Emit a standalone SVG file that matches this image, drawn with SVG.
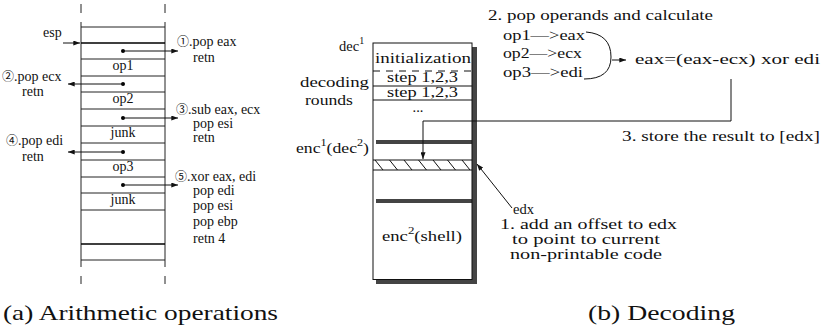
<svg xmlns="http://www.w3.org/2000/svg" width="832" height="327" viewBox="0 0 832 327" font-family="Liberation Serif, DejaVu Serif, serif">
<defs>
<style>
text{fill:#111}
.t{font-size:14px}
.p{font-size:14.5px}
.cap{font-size:21px}
.sl{stroke:#222;stroke-width:1;fill:none}
.ln{stroke:#111;stroke-width:1;fill:none}
.sh{fill:#444}
</style>
<marker id="ah" viewBox="0 0 8 6" refX="8" refY="3" markerWidth="7" markerHeight="5" markerUnits="userSpaceOnUse" orient="auto">
<path d="M0,0 L8,3 L0,6 Z" fill="#111"/>
</marker>
</defs>
<rect width="832" height="327" fill="#fff"/>

<g id="stack">
<path class="sl" d="M81,4V13M165,4V13M81,276V284M165,276V284M81,22V267M165,22V267"/>
<path class="sl" d="M81,27H165M81,59H165M81,76H165M81,92H165M81,109H165M81,126H165M81,143H165M81,160H165M81,177H165M81,193H165M81,210H165M81,260H165"/>
<path d="M81,43H165M81,244H165" stroke="#000" stroke-width="1.5"/>
<text class="t" x="123" y="70" text-anchor="middle">op1</text>
<text class="t" x="123" y="103" text-anchor="middle">op2</text>
<text class="t" x="123" y="137" text-anchor="middle">junk</text>
<text class="t" x="123" y="171" text-anchor="middle">op3</text>
<text class="t" x="123" y="204" text-anchor="middle">junk</text>
<g fill="#000"><circle cx="123" cy="51" r="2"/><circle cx="123" cy="84" r="2"/><circle cx="123" cy="118" r="2"/><circle cx="123" cy="152" r="2"/><circle cx="123" cy="185" r="2"/></g>
</g>
<g id="stack-labels">
<text class="t" x="43" y="37">esp</text>
<text class="t" x="177" y="46"><tspan font-family="Noto Sans CJK SC" font-size="12">①</tspan>.pop eax</text>
<text class="t" x="193" y="62">retn</text>
<text class="t" x="2" y="81"><tspan font-family="Noto Sans CJK SC" font-size="12">②</tspan>.pop ecx</text>
<text class="t" x="22" y="96">retn</text>
<text class="t" x="176" y="114"><tspan font-family="Noto Sans CJK SC" font-size="12">③</tspan>.sub eax, ecx</text>
<text class="t" x="193" y="128">pop esi</text>
<text class="t" x="193" y="142">retn</text>
<text class="t" x="6" y="145"><tspan font-family="Noto Sans CJK SC" font-size="12">④</tspan>.pop edi</text>
<text class="t" x="22" y="161">retn</text>
<text class="t" x="175" y="181"><tspan font-family="Noto Sans CJK SC" font-size="12">⑤</tspan>.xor eax, edi</text>
<text class="t" x="193" y="195">pop edi</text>
<text class="t" x="193" y="210">pop esi</text>
<text class="t" x="193" y="226">pop ebp</text>
<text class="t" x="193" y="243">retn 4</text>
</g>
<g id="stack-arrows">
<path class="ln" d="M63,43H80" marker-end="url(#ah)"/>
<path class="ln" d="M123,51H178" marker-end="url(#ah)"/>
<path class="ln" d="M123,84H68" marker-end="url(#ah)"/>
<path class="ln" d="M123,118H178" marker-end="url(#ah)"/>
<path class="ln" d="M123,152H68" marker-end="url(#ah)"/>
<path class="ln" d="M123,185H178" marker-end="url(#ah)"/>
</g>

<g id="memory">
<rect class="sh" x="472" y="47" width="5" height="237"/>
<rect class="sh" x="376" y="140" width="101" height="4"/>
<rect class="sh" x="376" y="199" width="101" height="4"/>
<rect class="sh" x="376" y="280" width="101" height="4"/>
<rect x="373" y="43" width="99" height="236.5" fill="none" stroke="#111" stroke-width="1"/>
<path class="ln" d="M373,86H472M373,100H472M373,160H472M373,170H472"/>
<path class="ln" d="M373,71H472" stroke-dasharray="7,6"/>
<path class="ln" d="M375,160L383,170M389.5,160L397.5,170M404,160L412,170M418.5,160L426.5,170M433,160L441,170M447.5,160L455.5,170M462,160L470,170"/>
</g>
<g id="dec1">
<text class="p" x="375" y="63" textLength="96" lengthAdjust="spacingAndGlyphs">initialization</text>
<text class="p" x="387" y="82" textLength="71" lengthAdjust="spacingAndGlyphs">step 1,2,3</text>
<text class="p" x="387" y="97" textLength="71" lengthAdjust="spacingAndGlyphs">step 1,2,3</text>
<text class="p" x="418" y="112" text-anchor="middle" font-size="12">...</text>
<text class="p" x="339" y="51">dec<tspan font-size="10" dy="-7">1</tspan></text>
<text class="p" x="300" y="87" textLength="69" lengthAdjust="spacingAndGlyphs">decoding</text>
<text class="p" x="305" y="105" textLength="48" lengthAdjust="spacingAndGlyphs">rounds</text>
</g>
<g id="enc1">
<text class="p" x="296" y="153" textLength="73" lengthAdjust="spacingAndGlyphs">enc<tspan font-size="10" dy="-7">1</tspan><tspan dy="7">(dec</tspan><tspan font-size="10" dy="-7">2</tspan><tspan dy="7">)</tspan></text>
</g>
<g id="enc2">
<text class="p" x="382" y="241" textLength="80" lengthAdjust="spacingAndGlyphs">enc<tspan font-size="10" dy="-7">2</tspan><tspan dy="7">(shell)</tspan></text>
</g>
<g id="calc">
<text class="p" x="488" y="20" textLength="225" lengthAdjust="spacingAndGlyphs">2. pop operands and calculate</text>
<text class="p" x="503" y="40" textLength="82" lengthAdjust="spacingAndGlyphs">op1—&gt;eax</text>
<text class="p" x="503" y="58" textLength="79" lengthAdjust="spacingAndGlyphs">op2—&gt;ecx</text>
<text class="p" x="503" y="77" textLength="80" lengthAdjust="spacingAndGlyphs">op3—&gt;edi</text>
<text class="p" x="635" y="64" textLength="185" lengthAdjust="spacingAndGlyphs">eax=(eax-ecx) xor edi</text>
</g>
<g id="store-label">
<text class="p" x="622" y="141" textLength="198" lengthAdjust="spacingAndGlyphs">3. store the result to [edx]</text>
</g>
<g id="edx-label">
<text class="p" x="513" y="214" textLength="21" lengthAdjust="spacingAndGlyphs">edx</text>
<text class="p" x="500" y="229" textLength="177" lengthAdjust="spacingAndGlyphs">1. add an offset to edx</text>
<text class="p" x="512" y="244" textLength="148" lengthAdjust="spacingAndGlyphs">to point to current</text>
<text class="p" x="510" y="259" textLength="152" lengthAdjust="spacingAndGlyphs">non-printable code</text>
</g>
<g id="connectors">
<path class="ln" d="M586,32Q611,34 611,57Q611,79 584,79"/>
<path class="ln" d="M612,60H626" marker-end="url(#ah)"/>
<path class="ln" d="M731,79V121H423V159" marker-end="url(#ah)"/>
<path class="ln" d="M512,208L477,164" marker-end="url(#ah)"/>
</g>
<g id="captions">
<text class="cap" x="3" y="320" textLength="275" lengthAdjust="spacingAndGlyphs">(a) Arithmetic operations</text>
<text class="cap" x="588" y="320" textLength="147" lengthAdjust="spacingAndGlyphs">(b) Decoding</text>
</g>
</svg>
